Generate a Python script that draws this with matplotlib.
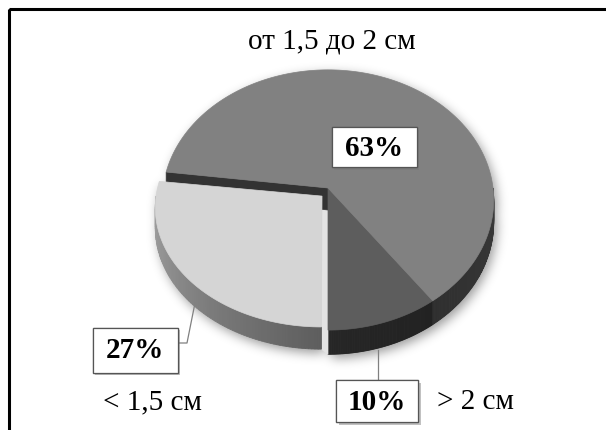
import numpy as np
import matplotlib
matplotlib.use('Agg')
import matplotlib.pyplot as plt
from matplotlib.patches import Polygon, Rectangle
from matplotlib.path import Path
import matplotlib.patheffects as pe

plt.rcParams['font.family'] = ['Liberation Serif', 'DejaVu Serif']

# data: shares of the three size groups, counter-clockwise from the front
categories = ['> 2 см', 'от 1,5 до 2 см', '< 1,5 см']
shares = [10, 63, 27]
exploded = [False, False, True]

top_colors = ['#5d5d5d', '#818181', '#d5d5d5']
side_colors = [('#262626', '#222222'), ('#2f2f2f', '#3a3a3a'), ('#a4a4a4', '#5e5e5e')]

# label layout (pixel coords of the figure)
label_xy = [(377, 401), (374, 147), (135, 350)]
box_size = [(82, 42), (85, 40), (85, 45)]
cat_xy = [(475, 402), (332, 42), (152, 402)]
leaders = [[(378, 380), (378, 350)], None, [(179, 343), (187, 343), (195, 303)]]

W, H = 606, 430
cx, cy = 328, 188      # centre of the top face
rx, ry = 165, 129      # radii of the top face
persp = 0.092          # far side gets smaller
depth = 22             # pie thickness, px
explode_r = 0.072      # how far the loose slice is pulled out
explode_dir = 240.0    # and in which direction (deg)
loose_squash = 0.91    # loose slice is seen a bit flatter
start = -90.0


def proj(X, Y, z=0.0):
    w = 1 + persp * np.asarray(Y)
    return cx + rx * np.asarray(X) / w, cy + (-ry * np.asarray(Y) + depth * z) / w


def rim(t0, t1, off, z, n=160):
    t = np.radians(np.linspace(t0, t1, n))
    x, y = proj(np.cos(t) + off[0], np.sin(t) + off[1], z)
    return np.column_stack([x, y])


def centre(off, z):
    x, y = proj(off[0], off[1], z)
    return np.array([[float(x), float(y)]])


def mix(c0, c1, f):
    a = np.array(matplotlib.colors.to_rgb(c0))
    b = np.array(matplotlib.colors.to_rgb(c1))
    return tuple(a + (b - a) * f)


def flatten(pts, ay, k):
    pts = np.array(pts, dtype=float)
    pts[:, 1] = ay + (pts[:, 1] - ay) * k
    return pts


def draw_side(ax, t0, t1, off, c0, c1, z=2, ay=None, k=1.0):
    # outer wall, only the part that faces the viewer (front half)
    out = []
    for a, b in [(-180.0, 0.0), (180.0, 360.0)]:
        lo, hi = max(t0, a), min(t1, b)
        if hi <= lo:
            continue
        n = 90
        top = rim(lo, hi, off, 0, n)
        bot = rim(lo, hi, off, 1, n)
        if ay is not None:
            top, bot = flatten(top, ay, k), flatten(bot, ay, k)
        for i in range(n - 1):
            f = i / (n - 2)
            c = mix(c0, c1, f)
            q = [top[i], top[i + 1], bot[i + 1], bot[i]]
            ax.add_patch(Polygon(q, closed=True, fc=c, ec=c, lw=0.6, zorder=z))
        out.append(np.vstack([top, bot[::-1]]))
    return out


fig = plt.figure(figsize=(W / 100, H / 100), dpi=100)
ax = fig.add_axes([0, 0, 1, 1])
ax.set_xlim(0, W)
ax.set_ylim(H, 0)
ax.axis('off')

# slice angles and offsets
edges = start + np.concatenate([[0], np.cumsum(shares)]) * 3.6
offsets = []
for i in range(len(shares)):
    if exploded[i]:
        d = np.radians(explode_dir)
        offsets.append((explode_r * np.cos(d), explode_r * np.sin(d)))
    else:
        offsets.append((0.0, 0.0))

silhouette = []
main = [i for i in range(len(shares)) if not exploded[i]]
loose = [i for i in range(len(shares)) if exploded[i]]

# body: walls, cut faces, tops
for i in main:
    silhouette += draw_side(ax, edges[i], edges[i + 1], offsets[i], *side_colors[i], z=2)

for i in loose:
    ay = centre(offsets[i], 0)[0, 1]
    # thin lit cut face of the pulled-out slice, seen through the gap
    a1 = np.radians(edges[i + 1])
    p0 = centre(offsets[i], 0)[0]
    p1 = np.array(proj(np.cos(a1) + offsets[i][0], np.sin(a1) + offsets[i][1], 1)).ravel()
    p0, p1 = flatten([p0, p1], ay, loose_squash)
    p2 = np.array(proj(np.cos(a1), np.sin(a1), 1)).ravel()
    p3 = centre((0, 0), 0)[0]
    ax.add_patch(Polygon([p0, p1, p2, p3], closed=True, fc='#e3e3e3', ec='#e3e3e3', lw=0.5, zorder=3))
    # dark cut face of the neighbour slice left open by the gap
    a0 = np.radians(edges[i])
    c_top = centre((0, 0), 0)[0]
    c_bot = centre((0, 0), 1)[0]
    r_top = np.array(proj(np.cos(a0), np.sin(a0), 0)).ravel()
    r_bot = np.array(proj(np.cos(a0), np.sin(a0), 1)).ravel()
    ax.add_patch(Polygon([c_top, r_top, r_bot, c_bot], closed=True, fc='#333333', ec='#333333', lw=0.5, zorder=4))

for i in main:
    poly = np.vstack([centre(offsets[i], 0), rim(edges[i], edges[i + 1], offsets[i], 0)])
    ax.add_patch(Polygon(poly, closed=True, fc=top_colors[i], ec=top_colors[i], lw=0.5, zorder=5))
    silhouette.append(poly)

# pulled-out slice on top
for i in loose:
    ay = centre(offsets[i], 0)[0, 1]
    silhouette += draw_side(ax, edges[i], edges[i + 1], offsets[i], *side_colors[i], z=6,
                            ay=ay, k=loose_squash)
    poly = np.vstack([centre(offsets[i], 0), rim(edges[i], edges[i + 1], offsets[i], 0)])
    poly = flatten(poly, ay, loose_squash)
    ax.add_patch(Polygon(poly, closed=True, fc=top_colors[i], ec=top_colors[i], lw=0.5, zorder=7))
    silhouette.append(poly)

# soft shadow under the pie
gx, gy = np.meshgrid(np.arange(W) + 0.5, np.arange(H) + 0.5)
pts = np.column_stack([gx.ravel() - 3, gy.ravel() - 4])
mask = np.zeros(W * H, dtype=bool)
for poly in silhouette:
    mask |= Path(poly).contains_points(pts)
mask = mask.reshape(H, W).astype(float)


def blur(img, s):
    r = int(3 * s)
    k = np.exp(-0.5 * (np.arange(-r, r + 1) / s) ** 2)
    k /= k.sum()
    img = np.apply_along_axis(lambda v: np.convolve(v, k, mode='same'), 0, img)
    img = np.apply_along_axis(lambda v: np.convolve(v, k, mode='same'), 1, img)
    return img


shade = blur(mask, 5.5)
rgba = np.zeros((H, W, 4))
rgba[..., 3] = 0.4 * shade
ax.imshow(rgba, extent=(0, W, H, 0), zorder=1, interpolation='bilinear')

# frame (only left and top edges fall inside the figure)
ax.add_patch(Rectangle((9, 9), W + 20, H + 20, fill=False, ec='black', lw=2.2, zorder=10))

# leader lines, value boxes and category names
for i in range(len(shares)):
    if leaders[i]:
        xs, ys = zip(*leaders[i])
        ax.plot(xs, ys, color='#808080', lw=0.9, zorder=8)
    x, y = label_xy[i]
    bw, bh = box_size[i]
    box = Rectangle((x - bw / 2, y - bh / 2), bw, bh, fc='white', ec='#555555', lw=0.9, zorder=9)
    box.set_path_effects([pe.withSimplePatchShadow(offset=(2, -2), shadow_rgbFace='#777777', alpha=0.45),
                          pe.Normal()])
    ax.add_patch(box)
    ax.text(x, y + 1, f'{shares[i]}%', ha='center', va='center', fontsize=21,
            fontweight='bold', zorder=11)
    cx_t, cy_t = cat_xy[i]
    ax.text(cx_t, cy_t, categories[i], ha='center', va='center', fontsize=21, zorder=11)

fig.savefig('out.png', dpi=100, facecolor='white')
